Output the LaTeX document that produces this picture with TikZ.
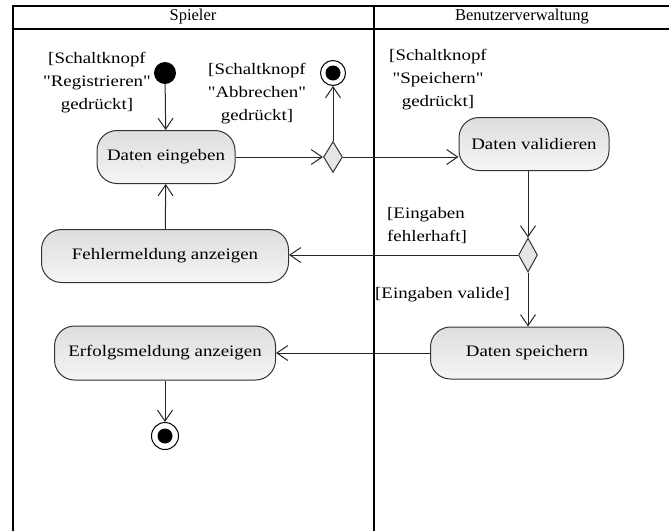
\documentclass[tikz,border=0pt]{standalone}
\usepackage{fontspec}
\setmainfont{Liberation Serif}[FakeStretch=1.18,Ligatures=TeXOff]
\newfontfamily\lanefont{Liberation Serif}[Ligatures=TeXOff]
\usetikzlibrary{arrows.meta,shapes.geometric}
\begin{document}
\begin{tikzpicture}[x=1pt,y=-1pt,
  lane/.style={line width=2pt,black},
  action/.style={draw=black!80,line width=1pt,rounded corners=20pt,
    top color=black!13,bottom color=black!4,minimum height=53pt,
    inner sep=0pt,font=\fontsize{16}{19}\selectfont},
  decision/.style={draw=black!80,line width=1pt,fill=black!10,diamond,
    inner sep=0pt,minimum width=19pt,minimum height=31pt},
  startnode/.style={circle,fill=black,minimum size=22pt,inner sep=0pt},
  endnode/.style={circle,draw=black,line width=1pt,fill=white,minimum size=25pt,inner sep=0pt,
    path picture={\fill[black] (path picture bounding box.center) circle (7.5pt);}},
  guard/.style={font=\fontsize{16}{23}\selectfont,inner sep=0pt},
  header/.style={font=\lanefont\fontsize{16.5}{18}\selectfont,inner sep=0pt},
  flow/.style={draw=black!85,line width=1pt,-{Straight Barb[length=11pt,width=15pt,line width=1pt]}}
]
\useasboundingbox (0,0) rectangle (669,531);
\fill[white] (0,0) rectangle (669,531);

% swimlane frame
\draw[lane] (12.5,531) -- (12.5,5.5) -- (669,5.5);
\draw[lane] (12.5,28.5) -- (669,28.5);
\draw[lane] (374,5.5) -- (374,531);
\node[header] (laneA) at (193,17) {Spieler};
\node[header] (laneB) at (522,17) {Benutzerverwaltung};

% activity nodes
\node[startnode] (start) at (165,73) {};
\node[action,minimum width=138pt] (eingeben) at (166,157) {Daten eingeben};
\node[decision] (d1) at (333,157) {};
\node[endnode] (end1) at (333,73) {};
\node[action,minimum width=150pt] (validieren) at (534,144) {Daten validieren};
\node[decision,minimum height=34pt] (d2) at (528,255) {};
\node[action,minimum width=247pt] (fehler) at (165,256) {Fehlermeldung anzeigen};
\node[action,minimum width=193pt,minimum height=52pt] (speichern) at (527,353) {Daten speichern};
\node[action,minimum width=221pt,minimum height=54pt] (erfolg) at (165,353) {Erfolgsmeldung anzeigen};
\node[endnode,minimum size=27pt] (end2) at (165,436) {};

% guard labels
\node[guard,align=center] (g1) at (97,83) {[Schaltknopf\\"Registrieren"\\gedrückt]};
\node[guard,align=center] (g2) at (257,94) {[Schaltknopf\\"Abbrechen"\\gedrückt]};
\node[guard,align=center] (g3) at (438,80) {[Schaltknopf\\"Speichern"\\gedrückt]};
\node[guard,align=left,anchor=west] (g4) at (387,226) {[Eingaben\\fehlerhaft]};
\node[guard,anchor=west] (g5) at (375,295) {[Eingaben valide]};

% control flow
\draw[flow] (start) -- (eingeben);
\draw[flow] (eingeben) -- (d1.west);
\draw[flow] (d1.north) -- (end1);
\draw[flow] (d1.east) -- (d1.east -| validieren.west);
\draw[flow] (d2 |- validieren.south) -- (d2.north);
\draw[flow] (d2.west) -- (d2.west -| fehler.east);
\draw[flow] (fehler) -- (eingeben);
\draw[flow] (d2.south) -- (d2.south |- speichern.north);
\draw[flow] (speichern) -- (erfolg);
\draw[flow] (erfolg) -- (end2);
\end{tikzpicture}
\end{document}
